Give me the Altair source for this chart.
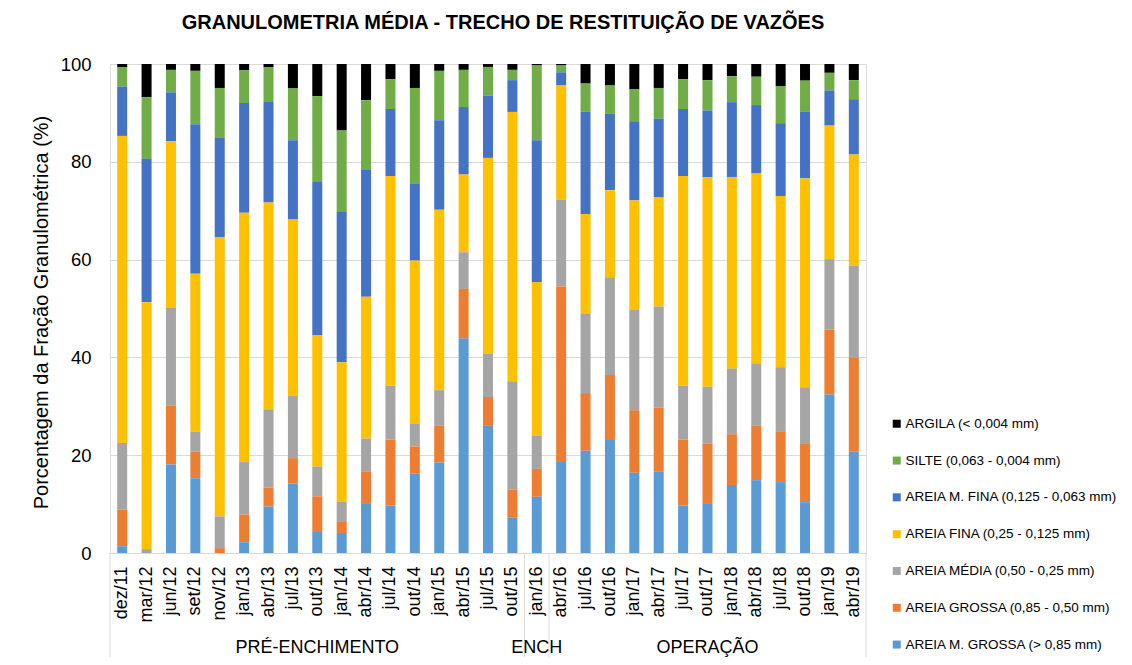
import altair as alt
import pandas as pd

cats = ["dez/11", "mar/12", "jun/12", "set/12", "nov/12", "jan/13", "abr/13", "jul/13",
        "out/13", "jan/14", "abr/14", "jul/14", "out/14", "jan/15", "abr/15", "jul/15",
        "out/15", "jan/16", "abr/16", "jul/16", "out/16", "jan/17", "abr/17", "jul/17",
        "out/17", "jan/18", "abr/18", "jul/18", "out/18", "jan/19", "abr/19"]

areia_m_grossa = [1.4, 0, 18.1, 15.3, 0, 2.2, 9.5, 14.2, 4.3, 4.1, 10.2, 9.7, 16.2, 18.5, 43.9, 26.0,
                  7.2, 11.5, 18.6, 20.9, 23.1, 16.4, 16.6, 9.7, 10.2, 13.9, 14.9, 14.5, 10.4, 32.4, 20.7]
areia_grossa = [7.5, 0, 12.1, 5.4, 1.0, 5.7, 3.9, 5.2, 7.3, 2.4, 6.5, 13.5, 5.6, 7.5, 10.1, 5.9,
                5.8, 5.7, 35.9, 11.8, 13.3, 12.8, 13.1, 13.5, 12.2, 10.4, 11.1, 10.4, 11.9, 13.3, 19.2]
areia_media = [13.6, 0.8, 19.9, 4.1, 6.5, 10.7, 16.0, 12.7, 6.1, 4.0, 6.7, 11.0, 4.6, 7.3, 7.5, 8.9,
               22.1, 6.8, 17.8, 16.2, 20.0, 20.5, 20.7, 11.0, 11.6, 13.4, 12.8, 13.1, 11.6, 14.4, 18.9]
areia_fina = [62.8, 50.5, 34.1, 32.3, 57.1, 51.0, 42.3, 36.1, 26.8, 28.5, 29.0, 42.9, 33.4, 36.9, 15.9, 40.0,
              55.1, 31.4, 23.3, 20.4, 17.8, 22.4, 22.3, 42.9, 42.8, 39.2, 38.8, 35.0, 42.7, 27.3, 22.7]
areia_m_fina = [10.1, 29.3, 10.0, 30.6, 20.3, 22.4, 20.7, 16.2, 31.5, 30.9, 25.9, 13.7, 15.8, 18.3, 13.8, 12.7,
                6.5, 29.0, 2.7, 20.9, 15.6, 16.2, 16.1, 13.7, 13.7, 15.3, 14.0, 14.9, 13.7, 7.2, 11.3]
silte = [3.9, 12.6, 4.6, 10.9, 10.2, 6.7, 6.9, 10.6, 17.4, 16.5, 14.3, 6.1, 19.5, 10.1, 7.6, 5.9,
         2.1, 15.3, 1.4, 5.8, 5.8, 6.5, 6.3, 6.1, 6.2, 5.3, 5.8, 7.6, 6.3, 3.6, 3.9]
argila = [0.7, 6.8, 1.2, 1.4, 4.9, 1.3, 0.7, 5.0, 6.6, 13.6, 7.4, 3.1, 4.9, 1.4, 1.2, 0.6,
          1.2, 0.3, 0.3, 4.0, 4.4, 5.2, 4.9, 3.1, 3.3, 2.5, 2.6, 4.5, 3.4, 1.8, 3.3]

series_names = ["ARGILA (< 0,004 mm)", "SILTE (0,063 -  0,004 mm)", "AREIA M. FINA (0,125 - 0,063 mm)",
                "AREIA FINA (0,25 - 0,125 mm)", "AREIA MÉDIA (0,50 - 0,25 mm)",
                "AREIA GROSSA (0,85 - 0,50 mm)", "AREIA M. GROSSA (> 0,85 mm)"]
series_values = [argila, silte, areia_m_fina, areia_fina, areia_media, areia_grossa, areia_m_grossa]
series_colors = ["#000000", "#70AD47", "#4472C4", "#FFC000", "#A5A5A5", "#ED7D31", "#5B9BD5"]

group_labels = ["PRÉ-ENCHIMENTO", "ENCH", "OPERAÇÃO"]
group_centers = ["out/13", "jan/16", "out/17"]
group_starts = ["dez/11", "jan/16", "abr/16"]

rows = []
for k, (name, vals) in enumerate(zip(series_names, series_values)):
    for c, v in zip(cats, vals):
        rows.append({"cat": c, "serie": name, "valor": v, "ordem": 6 - k})
df = pd.DataFrame(rows)

FONT = "Liberation Sans"
W, H = 756, 489

xscale = alt.Scale(domain=cats, paddingInner=0, paddingOuter=0)

bars = alt.Chart(df).mark_bar(width=10).encode(
    x=alt.X("cat:N", sort=cats, scale=xscale,
            axis=alt.Axis(title=None, labelAngle=-90, labelFontSize=18, ticks=False,
                          labelPadding=13, domainColor="#d9d9d9", labelColor="#000000",
                          labelFont=FONT)),
    y=alt.Y("valor:Q", stack="zero", scale=alt.Scale(domain=[0, 100], nice=False),
            axis=alt.Axis(title="Porcentagem da Fração Granulométrica (%)", values=[0, 20, 40, 60, 80, 100],
                          grid=True, gridColor="#d9d9d9", domain=False, ticks=False,
                          labelFontSize=18.5, labelPadding=19, labelColor="#000000",
                          titleFontSize=20, titleFontWeight="normal", titleColor="#000000",
                          titlePadding=9, titleY=248, labelFont=FONT, titleFont=FONT)),
    color=alt.Color("serie:N", scale=alt.Scale(domain=series_names, range=series_colors),
                    legend=alt.Legend(orient="none", legendX=780, legendY=353, title=None,
                                      symbolType="square", symbolSize=64, symbolStrokeWidth=0,
                                      labelFontSize=13.5, labelFont=FONT, labelColor="#000000",
                                      rowPadding=21.8, labelOffset=2, padding=0,
                                      labelLimit=400)),
    order=alt.Order("ordem:Q", sort="ascending"),
)

gstart = pd.DataFrame({"cat": group_starts})
sep_rules = alt.Chart(gstart).mark_rule(color="#d9d9d9", strokeWidth=1).encode(
    x=alt.X("cat:N", sort=cats, bandPosition=0),
    y=alt.value(H), y2=alt.value(H + 107),
)
end_rule = alt.Chart(pd.DataFrame({"cat": [cats[-1]]})).mark_rule(color="#d9d9d9", strokeWidth=1).encode(
    x=alt.X("cat:N", sort=cats, bandPosition=1),
    y=alt.value(H), y2=alt.value(H + 107),
)

gl = pd.DataFrame({"cat": group_centers, "label": group_labels})
group_text = alt.Chart(gl).mark_text(fontSize=18, font=FONT, color="#000000", baseline="middle").encode(
    x=alt.X("cat:N", sort=cats),
    y=alt.value(H + 95),
    text="label:N",
)

chart = alt.layer(bars, sep_rules, end_rule, group_text).properties(
    width=W, height=H,
    title=alt.TitleParams("GRANULOMETRIA  MÉDIA - TRECHO DE RESTITUIÇÃO DE VAZÕES",
                          font=FONT, fontSize=20, fontWeight="bold",
                          color="#000000", anchor="middle", offset=22, dx=15, frame="group"),
    autosize=alt.AutoSizeParams(type="none"),
    padding={"left": 102, "top": 56, "right": 258, "bottom": 104},
).configure_view(stroke="transparent").configure(font=FONT)

chart.save("out.html", embed_options={"renderer": "svg", "actions": False})
